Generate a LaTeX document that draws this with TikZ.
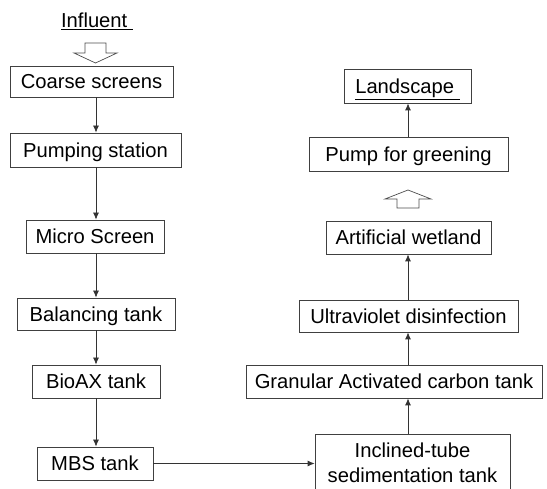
\documentclass[tikz,border=0pt]{standalone}
\usepackage{fontspec}
\setmainfont{Liberation Sans}
\usetikzlibrary{arrows.meta}
\usetikzlibrary{positioning}

\begin{document}
\begin{tikzpicture}[x=1pt,y=-1pt,line width=0.8pt,
  frame/.style={draw=black!75,inner sep=0pt,minimum height=33,font=\fontsize{20.2}{25}\selectfont},
  box/.style={frame,text height=14.5pt,text depth=0pt},
  arr/.style={draw=black!80,-{Latex[length=7pt,width=6pt]}},
  hollow/.style={draw=black!70,line width=0.7pt,line join=miter}]
\useasboundingbox (0,0) rectangle (547,489);
\clip (0,0) rectangle (547,489);
%左列
\node[anchor=base,font=\fontsize{20.2}{25}\selectfont] (IN) at (97,28) {\underline{Influent~}};
\node[box,minimum width=163,minimum height=31] (CS) at (91.5,81.5) {Coarse screens};
\node[box,minimum width=171,minimum height=34] (PS) at (95.5,150) {Pumping station};
\node[box,minimum width=138] (MS) at (95,236.5) {Micro Screen};
\node[box,minimum width=158,minimum height=32] (BT) at (96,314) {Balancing tank};
\node[box,minimum width=128] (BX) at (96,381.5) {BioAX tank};
\node[box,minimum width=116] (MBS) at (95,463.5) {MBS tank};
%右列
\node[frame,minimum width=195,minimum height=58.5,align=center] (IT) at (412.5,463.25) {Inclined-tube\\sedimentation tank};
\node[box,minimum width=296] (GAC) at (394,381.5) {Granular Activated carbon tank};
\node[box,minimum width=219,minimum height=32] (UV) at (408.5,316) {Ultraviolet disinfection};
\node[box,minimum width=165] (AW) at (408.5,237.5) {Artificial wetland};
\node[box,minimum width=199,minimum height=34] (PG) at (408.5,154) {Pump for greening};
\node[box,minimum width=127,minimum height=34] (LS) at (407.5,86) {\underline{Landscape~}};

\coordinate (L) at (96,0);
\coordinate (R) at (408,0);

%空心箭头
\coordinate (D) at (95.5,63);
\draw[hollow] (D) -- ++(-21.5,-10) -- ++(11,0) -- ++(0,-10) -- ++(21,0) -- ++(0,10) -- ++(11,0) -- cycle;
\coordinate (U) at (408,190);
\draw[hollow] (U) -- ++(-23,9) -- ++(12,0) -- ++(0,9) -- ++(22,0) -- ++(0,-9) -- ++(12,0) -- cycle;

\draw[arr] (CS.south -| L) -- (PS.north -| L);
\draw[arr] (PS.south -| L) -- (MS.north -| L);
\draw[arr] (MS.south -| L) -- (BT.north -| L);
\draw[arr] (BT.south -| L) -- (BX.north -| L);
\draw[arr] (BX.south -| L) -- (MBS.north -| L);
\draw[arr] (MBS.east) -- (MBS.east -| IT.west);
\draw[arr] (IT.north -| R) -- (GAC.south -| R);
\draw[arr] (GAC.north -| R) -- (UV.south -| R);
\draw[arr] (UV.north -| R) -- (AW.south -| R);
\draw[arr] (PG.north -| R) -- (LS.south -| R);
\end{tikzpicture}
\end{document}
